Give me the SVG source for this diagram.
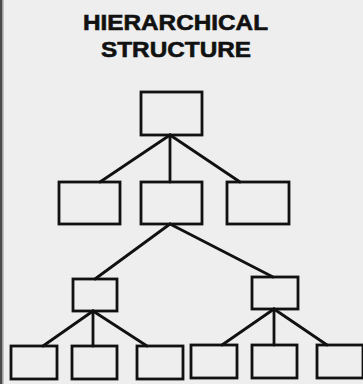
<svg xmlns="http://www.w3.org/2000/svg" width="363" height="384" viewBox="0 0 363 384">
<style>
.box{fill:none;stroke:#111;stroke-width:2.8}
.c{stroke:#111;stroke-width:2.8;fill:none;stroke-linecap:round}
.t{font-family:"Liberation Sans",Arial,sans-serif;font-weight:bold;font-size:22px;fill:#111;stroke:#111;stroke-width:0.6;text-anchor:middle}
</style>
<rect width="363" height="384" fill="#eeeeee"/>
<rect x="0" y="0" width="2" height="384" fill="#4a4a4a"/>
<rect x="2" y="0" width="1.5" height="384" fill="#999"/>
<g id="title">
<text class="t" x="175.5" y="30" textLength="185" lengthAdjust="spacingAndGlyphs">HIERARCHICAL</text>
<text class="t" x="176" y="57" textLength="150" lengthAdjust="spacingAndGlyphs">STRUCTURE</text>
</g>
<g id="connectors">
<line class="c" x1="170" y1="135" x2="100" y2="182"/>
<line class="c" x1="170" y1="135" x2="170" y2="182"/>
<line class="c" x1="170" y1="135" x2="240" y2="182"/>
<line class="c" x1="170" y1="224" x2="95" y2="279"/>
<line class="c" x1="170" y1="224" x2="273" y2="277"/>
<line class="c" x1="93" y1="311" x2="43" y2="346"/>
<line class="c" x1="93" y1="311" x2="93" y2="346"/>
<line class="c" x1="93" y1="311" x2="147" y2="346"/>
<line class="c" x1="274" y1="309" x2="222" y2="345"/>
<line class="c" x1="274" y1="309" x2="274" y2="345"/>
<line class="c" x1="274" y1="309" x2="327" y2="345"/>
</g>
<g id="root"><rect class="box" x="141" y="92" width="61" height="43"/></g>
<g id="l2a"><rect class="box" x="59" y="182" width="61" height="42"/></g>
<g id="l2b"><rect class="box" x="141" y="182" width="61" height="42"/></g>
<g id="l2c"><rect class="box" x="227" y="182" width="62" height="42"/></g>
<g id="l3a"><rect class="box" x="73" y="279" width="44" height="32"/></g>
<g id="l3b"><rect class="box" x="252" y="277" width="46" height="32"/></g>
<g id="l4a"><rect class="box" x="11" y="346" width="46" height="33"/></g>
<g id="l4b"><rect class="box" x="72" y="346" width="45" height="33"/></g>
<g id="l4c"><rect class="box" x="137" y="346" width="46" height="33"/></g>
<g id="l4d"><rect class="box" x="191" y="345" width="46" height="33"/></g>
<g id="l4e"><rect class="box" x="252" y="345" width="45" height="33"/></g>
<g id="l4f"><rect class="box" x="317" y="345" width="46" height="33"/></g>
</svg>
